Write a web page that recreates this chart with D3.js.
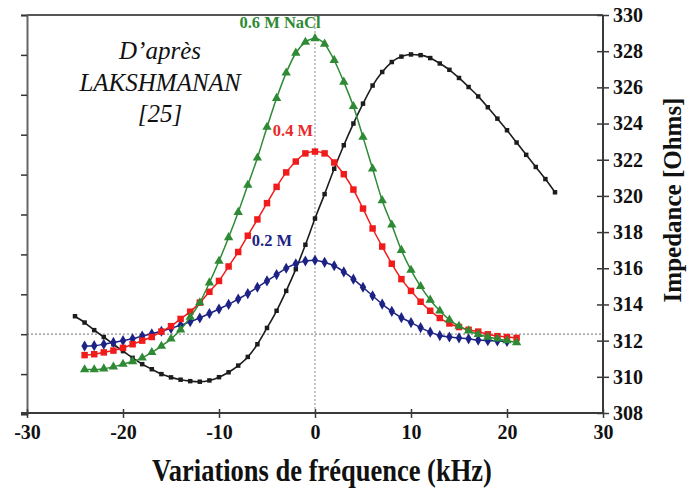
<!DOCTYPE html>
<html>
<head>
<meta charset="utf-8">
<script src="https://cdn.jsdelivr.net/npm/d3@7"></script>
<style>
  html, body { margin: 0; padding: 0; background: #fff; }
  svg { display: block; }
</style>
</head>
<body>
<svg id="chart" width="693" height="490"></svg>
<script>
// ---------- DATA ----------
const freqBlack = [-25,-24,-23,-22,-21,-20,-19,-18,-17,-16,-15,-14,-13,-12,-11,-10,-9,-8,-7,-6,-5,-4,-3,-2,-1,0,1,2,3,4,5,6,7,8,9,10,11,12,13,14,15,16,17,18,19,20,21,22,23,24,25];
const impBlack = [313.35,313.0,312.58,312.2,311.8,311.42,311.05,310.7,310.42,310.15,309.97,309.84,309.76,309.73,309.8,309.98,310.25,310.62,311.1,311.8,312.7,313.65,314.75,315.95,317.3,318.75,320.1,321.5,322.8,324.0,325.1,326.1,326.85,327.4,327.7,327.82,327.78,327.62,327.32,326.97,326.52,326.02,325.5,324.9,324.27,323.63,322.95,322.27,321.6,320.93,320.2];

const freqSalt = [-24,-23,-22,-21,-20,-19,-18,-17,-16,-15,-14,-13,-12,-11,-10,-9,-8,-7,-6,-5,-4,-3,-2,-1,0,1,2,3,4,5,6,7,8,9,10,11,12,13,14,15,16,17,18,19,20,21];
const imp06 = [310.4,310.4,310.45,310.55,310.7,310.85,311.05,311.35,311.7,312.1,312.6,313.3,314.1,315.2,316.4,317.7,319.1,320.6,322.1,323.8,325.4,326.8,327.9,328.5,328.7,328.4,327.5,326.3,324.95,323.25,321.5,319.75,318.4,317.0,315.9,315.0,314.25,313.65,313.15,312.8,312.55,312.35,312.2,312.1,312.0,311.9];
const imp04 = [311.2,311.25,311.35,311.45,311.6,311.8,312.0,312.2,312.5,312.8,313.2,313.6,314.1,314.7,315.3,316.1,316.9,317.8,318.7,319.6,320.5,321.3,321.9,322.35,322.45,322.35,321.85,321.2,320.35,319.3,318.2,317.2,316.25,315.4,314.75,314.15,313.65,313.25,312.95,312.75,312.6,312.5,312.35,312.25,312.2,312.15];

const freq02 = [-24,-23,-22,-21,-20,-19,-18,-17,-16,-15,-14,-13,-12,-11,-10,-9,-8,-7,-6,-5,-4,-3,-2,-1,0,1,2,3,4,5,6,7,8,9,10,11,12,13,14,15,16,17,18,19,20];
const imp02 = [311.7,311.72,311.8,311.9,312.0,312.1,312.25,312.38,312.52,312.68,312.85,313.05,313.25,313.5,313.75,314.0,314.3,314.6,314.95,315.3,315.65,316.0,316.25,316.4,316.45,316.33,316.14,315.8,315.4,314.95,314.48,314.02,313.62,313.27,313.0,312.72,312.47,312.28,312.2,312.15,312.1,312.03,312.0,311.98,311.95];

const xTicks = [-30,-20,-10,0,10,20,30];
const yTicks = [308,310,312,314,316,318,320,322,324,326,328,330];
const leftTicks = [0,1,2,3,4,5,6,7,8,9,10];
const refLeftValue = 2;     // dotted horizontal reference on the unlabeled left scale
const refFreq = 0;          // dotted vertical reference

const seriesLabels = ["0.6 M NaCl", "0.4 M", "0.2 M"];
const noteLines = ["D\u2019apr\u00e8s", "LAKSHMANAN", "[25]"];
const xTitle = "Variations de fr\u00e9quence (kHz)";
const yTitle = "Impedance [Ohms]";

// ---------- CHART ----------
const svg = d3.select("#chart");
const L = 27, R = 603, T = 15, B = 413;
const x = d3.scaleLinear().domain([-30, 30]).range([L, R]);
const y = d3.scaleLinear().domain([308, 330]).range([B, T]);
const yLeft = d3.scaleLinear().domain([0, 10]).range([B + 1, T]);

const serif = "'Liberation Serif', 'Times New Roman', serif";
const axisCol = "#3a3a3a";

// reference dotted lines
svg.append("line")
  .attr("x1", L).attr("x2", R)
  .attr("y1", yLeft(refLeftValue)).attr("y2", yLeft(refLeftValue))
  .attr("stroke", "#8a8a8a").attr("stroke-width", 1.2)
  .attr("stroke-dasharray", "2,2");
svg.append("line")
  .attr("x1", x(refFreq)).attr("x2", x(refFreq))
  .attr("y1", T).attr("y2", B)
  .attr("stroke", "#a0a0a0").attr("stroke-width", 1.2)
  .attr("stroke-dasharray", "2,2");

// top border
svg.append("line").attr("x1", L).attr("x2", R).attr("y1", T).attr("y2", T)
  .attr("stroke", "#555").attr("stroke-width", 2);

// left axis (unlabeled)
const gL = svg.append("g").attr("transform", `translate(${L},0)`)
  .call(d3.axisLeft(yLeft).tickValues(leftTicks).tickSize(6).tickFormat(""));
gL.select(".domain").attr("stroke", "#666").attr("stroke-width", 2);
gL.selectAll(".tick line").attr("stroke", "#333").attr("stroke-width", 1.5);

// bottom axis
const gB = svg.append("g").attr("transform", `translate(0,${B})`)
  .call(d3.axisBottom(x).tickValues(xTicks).tickSizeOuter(0).tickSize(5).tickFormat(d => String(d)));
gB.select(".domain").attr("stroke", axisCol).attr("stroke-width", 2)
  .attr("d", `M${L - 6},0H${R}`);
gB.selectAll(".tick line").attr("y1", -4).attr("stroke", axisCol).attr("stroke-width", 1.5);
gB.selectAll(".tick text")
  .attr("y", 12).attr("dy", "0.71em")
  .attr("font-family", serif).attr("font-weight", "bold").attr("font-size", 20)
  .attr("fill", "#111");

// right axis
const gR = svg.append("g").attr("transform", `translate(${R},0)`)
  .call(d3.axisRight(y).tickValues(yTicks).tickSizeOuter(0).tickSize(6).tickFormat(d => String(d)));
gR.select(".domain").attr("stroke", axisCol).attr("stroke-width", 2)
  .attr("d", `M0,${T}V${B}`);
gR.selectAll(".tick line").attr("x1", -6).attr("stroke", axisCol).attr("stroke-width", 1.5);
gR.selectAll(".tick text")
  .attr("x", 10)
  .attr("font-family", serif).attr("font-weight", "bold").attr("font-size", 20)
  .attr("fill", "#111");

// titles
svg.append("text")
  .attr("transform", "translate(322,481) scale(1,1.2)")
  .attr("text-anchor", "middle")
  .attr("font-family", serif).attr("font-weight", "bold").attr("font-size", 26.5)
  .attr("fill", "#111").text(xTitle);
svg.append("text")
  .attr("transform", "translate(681,200) rotate(-90)")
  .attr("text-anchor", "middle")
  .attr("font-family", serif).attr("font-weight", "bold").attr("font-size", 25)
  .attr("fill", "#111").text(yTitle);

// series
const series = [
  { f: freqBlack, v: impBlack, color: "#1c1c1c", sym: d3.symbolSquare, size: 20, lw: 1.6 },
  { f: freq02, v: imp02, color: "#1d2385", sym: d3.symbolDiamond, size: 36, lw: 1.5 },
  { f: freqSalt, v: imp04, color: "#f01c1c", sym: d3.symbolSquare, size: 42, lw: 1.5 },
  { f: freqSalt, v: imp06, color: "#2e8a34", sym: d3.symbolTriangle, size: 38, lw: 1.5 }
];
const line = d3.line().x(d => x(d[0])).y(d => y(d[1])).curve(d3.curveMonotoneX);
series.forEach(s => {
  const pts = s.f.map((f, i) => [f, s.v[i]]);
  svg.append("path").datum(pts)
    .attr("fill", "none").attr("stroke", s.color).attr("stroke-width", s.lw)
    .attr("d", line);
  svg.append("g").selectAll("path").data(pts).join("path")
    .attr("transform", d => `translate(${x(d[0])},${y(d[1])})`)
    .attr("d", d3.symbol().type(s.sym).size(s.size))
    .attr("fill", s.color);
});

// series labels
const labelSpecs = [
  { t: seriesLabels[0], x: 280, y: 28, c: "#2e8a34" },
  { t: seriesLabels[1], x: 293, y: 136, c: "#e82a2a" },
  { t: seriesLabels[2], x: 272, y: 246, c: "#1d2385" }
];
svg.append("g").selectAll("text").data(labelSpecs).join("text")
  .attr("x", d => d.x).attr("y", d => d.y)
  .attr("text-anchor", "middle")
  .attr("font-family", serif).attr("font-weight", "bold").attr("font-size", 16.5)
  .attr("fill", d => d.c).text(d => d.t);

// annotation
svg.append("g").selectAll("text").data(noteLines).join("text")
  .attr("x", 160).attr("y", (d, i) => 59 + i * 31.5)
  .attr("text-anchor", "middle")
  .attr("font-family", serif).attr("font-style", "italic").attr("font-size", 25)
  .attr("fill", "#111").text(d => d);
</script>
</body>
</html>
